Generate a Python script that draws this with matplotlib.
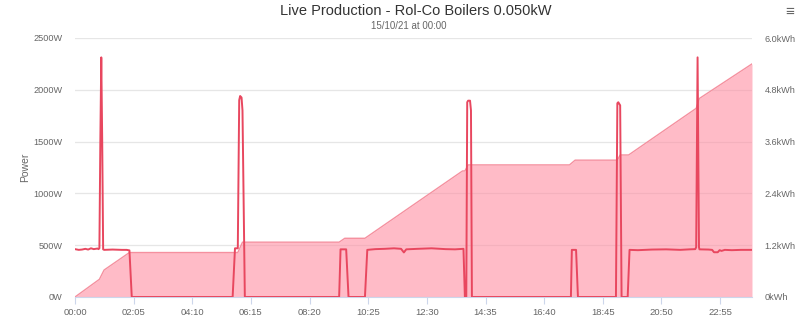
import matplotlib
matplotlib.use("Agg")
import matplotlib.pyplot as plt

plt.rcParams['font.family'] = ['Liberation Sans', 'DejaVu Sans']

# Power (W) series: time in minutes from 00:00
power_t = [0, 8, 15, 22, 28, 34, 40, 48, 50, 52, 54, 56, 58, 60, 62, 80, 100, 110, 116, 121,
           336, 341, 347, 350, 352, 355, 357, 362,
           563, 566, 578, 583,
           618, 623, 640, 660, 680, 695, 701, 706, 730, 760, 790, 810, 828, 831, 834, 836, 838, 842, 844, 846,
           1057, 1059, 1068, 1072,
           1153, 1156, 1158, 1162, 1165, 1178, 1182, 1200, 1230, 1260, 1290, 1310, 1322, 1324, 1327, 1330, 1331,
           1350, 1358, 1362, 1370, 1374, 1378, 1385, 1400, 1420, 1443]
power_w = [462, 455, 458, 465, 458, 470, 462, 468, 462, 470, 1500, 2313, 1500, 460, 455, 458, 455, 455, 450, 0,
           0, 470, 470, 1900, 1940, 1925, 1800, 0,
           0, 460, 460, 0,
           0, 455, 462, 465, 470, 465, 430, 460, 465, 470, 462, 460, 465, 0, 0, 1880, 1895, 1895, 1800, 0,
           0, 455, 455, 0,
           0, 1870, 1880, 1850, 0, 0, 455, 452, 458, 460, 455, 460, 462, 480, 2313, 480, 460,
           458, 455, 432, 432, 452, 445, 455, 452, 455, 455]

# Cumulative energy (kWh)
energy_t = [0, 52, 62, 116, 347, 357, 563, 575, 618, 826, 831, 838, 1054, 1066, 1156, 1162, 1180, 1324, 1331, 1443]
energy_kwh = [0, 0.41, 0.625, 1.03, 1.03, 1.27, 1.27, 1.36, 1.36, 2.92, 2.92, 3.06, 3.06, 3.17, 3.17, 3.29, 3.29,
              4.37, 4.60, 5.40]

x_ticks = [0, 125, 250, 375, 500, 625, 750, 875, 1000, 1125, 1250, 1375]
x_labels = ["00:00", "02:05", "04:10", "06:15", "08:20", "10:25", "12:30", "14:35", "16:40", "18:45", "20:50", "22:55"]
w_ticks = [0, 500, 1000, 1500, 2000, 2500]
w_labels = ["0W", "500W", "1000W", "1500W", "2000W", "2500W"]
kwh_ticks = [0, 1.2, 2.4, 3.6, 4.8, 6.0]
kwh_labels = ["0kWh", "1.2kWh", "2.4kWh", "3.6kWh", "4.8kWh", "6.0kWh"]

fig = plt.figure(figsize=(8, 3.21), dpi=100)
ax = fig.add_axes([75/800, 1-297/321, (752-75)/800, (297-38)/321])
ax2 = ax.twinx()

# energy area on ax2 (behind)
ax2.fill_between(energy_t, energy_kwh, 0, color='#FF8FA3', alpha=0.6, lw=0, zorder=2)
ax2.plot(energy_t, energy_kwh, color='#F5909F', lw=1.0, zorder=3)
ax2.set_ylim(0, 6.0)
ax2.set_yticks(kwh_ticks)
ax2.set_yticklabels(kwh_labels)
ax2.grid(axis='y', color='#E6E6E6', lw=0.9, zorder=1)
ax2.set_axisbelow(True)

# power line on ax (front)
ax.set_zorder(ax2.get_zorder() + 1)
ax.patch.set_visible(False)
ax.plot(power_t, power_w, color='#E8475F', lw=1.4, zorder=4)
ax.set_ylim(0, 2500)
ax.set_xlim(0, 1443)
ax.set_yticks(w_ticks)
ax.set_yticklabels(w_labels)
ax.set_xticks(x_ticks)
ax.set_xticklabels(x_labels)
ax.set_ylabel("Power", color='#666666', fontsize=7.5)
ax.yaxis.set_label_coords(-0.066, 0.5)

for a in (ax, ax2):
    for s in a.spines.values():
        s.set_visible(False)
ax.spines['bottom'].set_visible(True)
ax.spines['bottom'].set_color('#CCD6EB')
ax.tick_params(axis='x', colors='#CCD6EB', labelcolor='#666666', labelsize=6.8, length=5, pad=3)
ax.tick_params(axis='y', length=0, labelcolor='#666666', labelsize=6.6, pad=9)
ax2.tick_params(axis='y', length=0, labelcolor='#666666', labelsize=6.6, pad=9)

fig.text((288 + 543) / 2 / 800, 1 - 11/321, "Live Production - Rol-Co Boilers 0.050kW",
         ha='center', va='center', fontsize=10.5, color='#333333')
fig.text((367 + 450) / 2 / 800, 1 - 26/321, "15/10/21 at 00:00",
         ha='center', va='center', fontsize=7, color='#666666')
fig.text(790/800, 1 - 12/321, "\u2261", ha='center', va='center', fontsize=11, color='#666666')

fig.savefig("out.png", dpi=100)
